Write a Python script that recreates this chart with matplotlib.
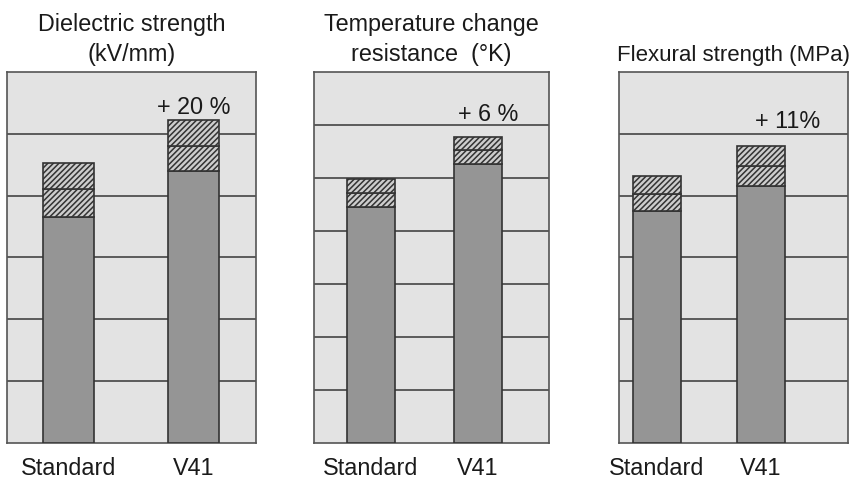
import matplotlib
matplotlib.use("Agg")
import matplotlib.pyplot as plt

plt.rcParams['font.family'] = ['Liberation Sans', 'DejaVu Sans']
plt.rcParams['hatch.linewidth'] = 1.1

# data (arbitrary grid units)
categories = ["Standard", "V41"]
titles = ["Dielectric strength\n(kV/mm)",
          "Temperature change\nresistance  (°K)",
          "Flexural strength (MPa)"]
gains = ["+ 20 %", "+ 6 %", "+ 11%"]

dielectric_base = [3.66, 4.40]
dielectric_mid = [4.11, 4.80]
dielectric_top = [4.53, 5.22]

temp_base = [4.45, 5.26]
temp_mid = [4.72, 5.53]
temp_top = [4.98, 5.77]

flex_base = [3.75, 4.16]
flex_mid = [4.03, 4.48]
flex_top = [4.32, 4.80]

grid_max = [6, 7, 6]

panels = [(dielectric_base, dielectric_mid, dielectric_top),
          (temp_base, temp_mid, temp_top),
          (flex_base, flex_mid, flex_top)]

# layout (figure fractions) and per-panel geometry
rects = [[0.0082, 0.0752, 0.2916, 0.7745],
         [0.3677, 0.0752, 0.2752, 0.7745],
         [0.7248, 0.0752, 0.2681, 0.7745]]
xlims = [(-0.492, 1.5), (-0.533, 1.664), (-0.365, 1.837)]
widths = [0.408, 0.449, 0.46]
label_off = [(0, 9.5), (7, 16), (19, 18)]
title_fs = [16.8, 16.8, 16.0]

bg = '#e3e3e3'
solid = '#959595'
dark = '#333333'
txt = '#1a1a1a'
fs = 16.8

fig = plt.figure(figsize=(8.54, 4.79), dpi=100)

for i, (base, mid, top) in enumerate(panels):
    ax = fig.add_axes(rects[i])
    ax.set_facecolor(bg)
    x = range(len(categories))
    w = widths[i]
    ax.bar(x, base, width=w, color=solid, edgecolor=dark, linewidth=1.2, zorder=3)
    ax.bar(x, [m - b for m, b in zip(mid, base)], bottom=base, width=w,
           color='#cdcdcd', edgecolor=dark, hatch='//////', linewidth=1.2, zorder=3)
    ax.bar(x, [t - m for t, m in zip(top, mid)], bottom=mid, width=w,
           color='#cdcdcd', edgecolor=dark, hatch='//////', linewidth=1.2, zorder=3)

    ax.annotate(gains[i], xy=(1, top[1]), xytext=label_off[i],
                textcoords='offset points', ha='center', va='center',
                fontsize=fs, color=txt)

    ax.set_xlim(*xlims[i])
    ax.set_ylim(0, grid_max[i])
    ax.set_yticks(range(1, grid_max[i]))
    ax.set_yticklabels([])
    ax.tick_params(axis='y', length=0)
    ax.yaxis.grid(True, color='#444444', linewidth=1.2)
    ax.set_axisbelow(True)
    ax.set_xticks(list(x))
    ax.set_xticklabels(categories, fontsize=fs, color=txt)
    ax.tick_params(axis='x', length=0, pad=10)
    for s in ax.spines.values():
        s.set_color('#555555')
        s.set_linewidth(1.2)
    ax.set_title(titles[i], fontsize=title_fs[i], color=txt, pad=8, linespacing=1.38)

fig.savefig("out.png", dpi=100, facecolor='white')
